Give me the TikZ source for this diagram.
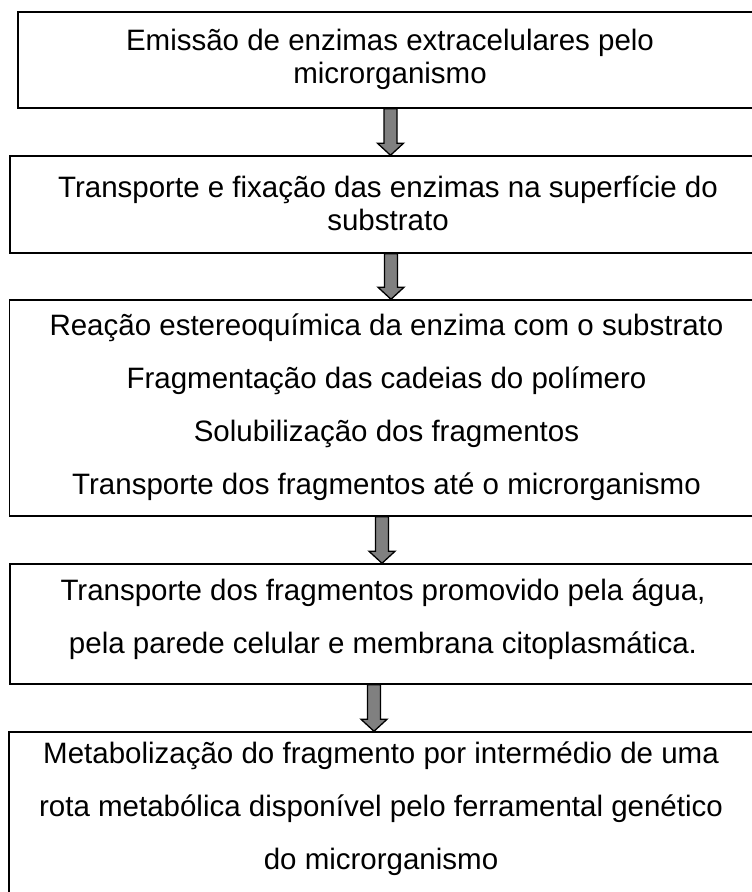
\documentclass[tikz,border=0pt]{standalone}
\usepackage{fontspec}
\setmainfont{Liberation Sans}
\usetikzlibrary{calc}
\tikzset{
  box/.style={draw=black, line width=1.5pt, rectangle, inner sep=0pt},
  boxtext/.style={inner sep=0pt, align=center},
  single/.style={font=\fontsize{29.5}{33}\selectfont},
  wide/.style={font=\fontsize{29.5}{53}\selectfont},
  blockarrow/.style={draw=black, fill=gray, line width=1.3pt, line join=miter}
}
\newcommand\flowarrow[3]{%
  \coordinate (x-#1) at (#3,0);
  \coordinate (s-#1) at (#1.south -| x-#1);
  \coordinate (e-#1) at (#2.north -| x-#1);
  \draw[blockarrow] ($(s-#1)+(-6.5,0)$) -- ($(e-#1)+(-6.5,-12)$) -- ($(e-#1)+(-13,-12)$)
    -- (e-#1) -- ($(e-#1)+(13,-12)$) -- ($(e-#1)+(6.5,-12)$) -- ($(s-#1)+(6.5,0)$) -- cycle;
}
\begin{document}
\begin{tikzpicture}[x=1pt,y=-1pt]
\useasboundingbox[fill=white] (0,0) rectangle (752,892);
% boxes
\node[box,minimum width=744pt,minimum height=96pt] (b1) at (390,60) {};
\node[box,minimum width=760pt,minimum height=97pt] (b2) at (390,204.5) {};
\node[box,minimum width=754pt,minimum height=216pt] (b3) at (386.5,408) {};
\node[box,minimum width=746pt,minimum height=120pt] (b4) at (383,624) {};
\node[box,minimum width=748pt,minimum height=168pt] (b5) at (383,816) {};
% texts
\node[boxtext,single] (t1) at ($(b1.center)+(0,-1)$)
  {Emissão de enzimas extracelulares pelo\\microrganismo};
\node[boxtext,single] (t2) at ($(b2.center)+(-2,-1)$)
  {Transporte e fixação das enzimas na superfície do\\substrato};
\node[boxtext,wide] (t3) at ($(b3.center)+(0,-1)$)
  {Reação estereoquímica da enzima com o substrato\\Fragmentação das cadeias do polímero\\Solubilização dos fragmentos\\Transporte dos fragmentos até o microrganismo};
\node[boxtext,wide] (t4) at ($(b4.center)+(0,-5)$)
  {Transporte dos fragmentos promovido pela água,\\pela parede celular e membrana citoplasmática.};
\node[boxtext,wide] (t5) at ($(b5.center)+(-2,-7)$)
  {Metabolização do fragmento por intermédio de uma\\rota metabólica disponível pelo ferramental genético\\do microrganismo};
% arrows
\flowarrow{b1}{b2}{390.5}
\flowarrow{b2}{b3}{391}
\flowarrow{b3}{b4}{382}
\flowarrow{b4}{b5}{374}
\end{tikzpicture}
\end{document}
